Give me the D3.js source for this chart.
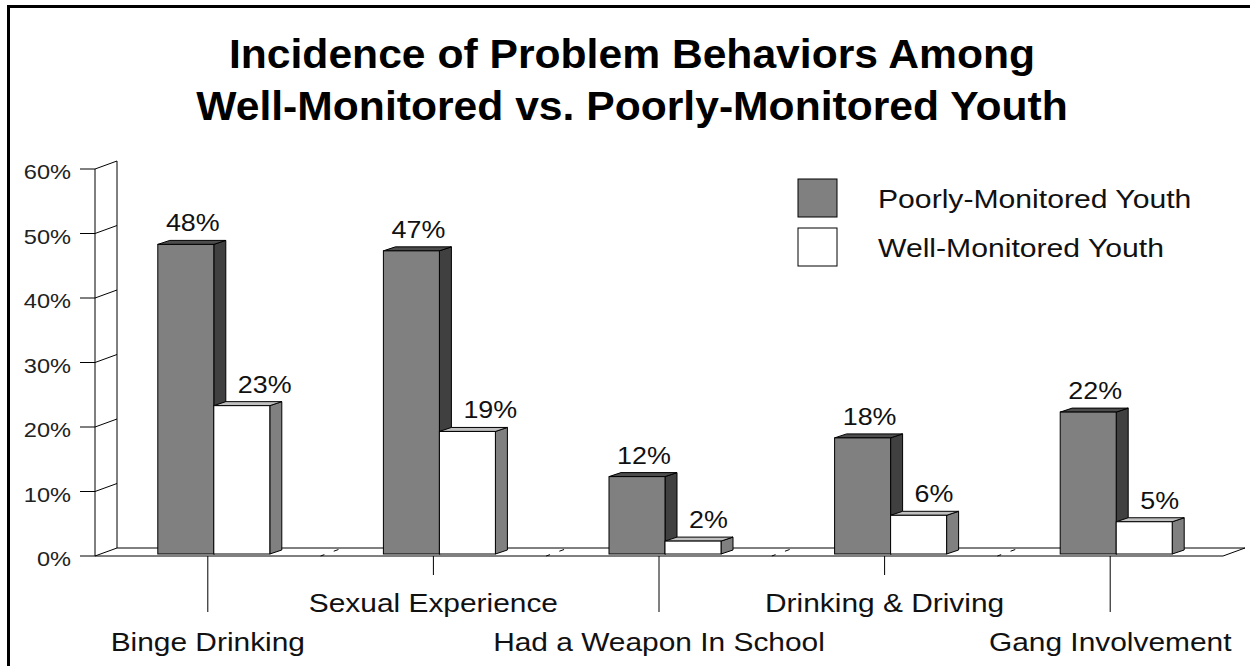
<!DOCTYPE html>
<html><head><meta charset="utf-8">
<script src="https://cdn.jsdelivr.net/npm/d3@7"></script>
<style>body{margin:0;background:#fff}svg{display:block}text{font-family:"Liberation Sans",Arial,sans-serif}</style>
</head><body>
<svg id="c" width="1250" height="666"></svg>
<script>
const categories = ["Binge Drinking","Sexual Experience","Had a Weapon In School","Drinking & Driving","Gang Involvement"];
const series = ["Poorly-Monitored Youth","Well-Monitored Youth"];
const poorly = [48,47,12,18,22];
const well = [23,19,2,6,5];
const yTicks = [0,10,20,30,40,50,60];
const titleLines = ["Incidence of Problem Behaviors Among","Well-Monitored vs. Poorly-Monitored Youth"];

const svg = d3.select("#c");
// stretched text helper
function txt(parent,x,y,str,size,sx,anchor,opts={}){
  return parent.append("text").attr("transform",`translate(${x},${y}) scale(${sx},1)`)
    .attr("text-anchor",anchor).attr("font-size",size)
    .attr("font-weight",opts.bold?"bold":"normal").attr("fill",opts.fill||"#111").text(str);
}
// frame
svg.append("rect").attr("x",8.5).attr("y",6.5).attr("width",1300).attr("height",700)
  .attr("fill","none").attr("stroke","#000").attr("stroke-width",3);

const left=95,right=1223,y0=556,yTop=169;
const wallDx=22,wallDy=-8;
const barOffX=6,barOffY=-2,barDx=12,barDy=-4;
const y=d3.scaleLinear().domain([0,60]).range([y0,yTop]);
const x0=d3.scaleBand().domain(categories).range([left,right]);
const bw=x0.bandwidth();
const x1=d3.scaleBand().domain(series).range([bw/2-56,bw/2+56]);

const g=svg.append("g");
// wall
g.append("line").attr("x1",left).attr("x2",left).attr("y1",y(60)).attr("y2",y0).attr("stroke","#000");
g.append("line").attr("x1",left+wallDx).attr("x2",left+wallDx).attr("y1",y(60)+wallDy).attr("y2",y0+wallDy).attr("stroke","#000");
yTicks.forEach(t=>{
  g.append("path").attr("d",`M${left-15},${y(t)}H${left}L${left+wallDx},${y(t)+wallDy}`).attr("fill","none").attr("stroke","#000");
  txt(g,71,y(t)+10,t+"%",20,1.18,"end",{fill:"#222"});
});
// floor
g.append("path").attr("d",`M${left+wallDx},${y0+wallDy}H${right+wallDx}L${right},${y0}`).attr("fill","none").attr("stroke","#000");
g.append("line").attr("x1",left).attr("x2",right).attr("y1",y0).attr("y2",y0).attr("stroke","#000");
// floor separators
categories.slice(0,-1).forEach(c=>{
  const xs=x0(c)+bw;
  g.append("line").attr("x1",xs).attr("y1",y0).attr("x2",xs+wallDx).attr("y2",y0+wallDy)
   .attr("stroke","#000").attr("stroke-dasharray","4 10 5 30");
});
// category ticks & labels
categories.forEach((c,i)=>{
  const cx=x0(c)+bw/2;
  const low=i%2===0;
  g.append("line").attr("x1",cx).attr("x2",cx).attr("y1",y0).attr("y2",low?612:575).attr("stroke","#000");
  txt(g,cx,low?651:612,c,26,1.15,"middle");
});
// bars
const colors={
  "Poorly-Monitored Youth":{front:"#808080",side:"#404040",top:"#4d4d4d"},
  "Well-Monitored Youth":{front:"#ffffff",side:"#808080",top:"#c0c0c0"}
};
const data=[];
categories.forEach((c,i)=>{data.push({c,s:series[0],v:poorly[i]});data.push({c,s:series[1],v:well[i]});});
const bg=g.append("g");
data.forEach(d=>{
  const xl=x0(d.c)+x1(d.s)+barOffX, xr=xl+x1.bandwidth();
  const yt=y(d.v)+barOffY, yb=y0+barOffY;
  const col=colors[d.s];
  bg.append("path").attr("d",`M${xr},${yt}L${xr+barDx},${yt+barDy}V${yb+barDy}L${xr},${yb}Z`).attr("fill",col.side).attr("stroke","#000").attr("stroke-width",1);
  bg.append("path").attr("d",`M${xl},${yt}L${xl+barDx},${yt+barDy}H${xr+barDx}L${xr},${yt}Z`).attr("fill",col.top).attr("stroke","#000").attr("stroke-width",1);
  bg.append("rect").attr("x",xl).attr("y",yt).attr("width",xr-xl).attr("height",yb-yt).attr("fill",col.front).attr("stroke","#000").attr("stroke-width",1);
  if(d.s===series[0]) txt(bg,(xl+xr)/2+7,yt-13,d.v+"%",24,1.12,"middle");
  else txt(bg,xl+24,yt-13,d.v+"%",24,1.12,"start");
});
// legend
series.forEach((s,i)=>{
  const ly=179+i*49;
  svg.append("rect").attr("x",798).attr("y",ly).attr("width",39).attr("height",38).attr("fill",colors[s].front).attr("stroke","#000");
  txt(svg,878,ly+29,s,26,1.16,"start");
});
// title
titleLines.forEach((t,i)=>{
  txt(svg,632,68+i*52,t,40,1.066,"middle",{bold:true,fill:"#000"});
});
</script>
</body></html>
